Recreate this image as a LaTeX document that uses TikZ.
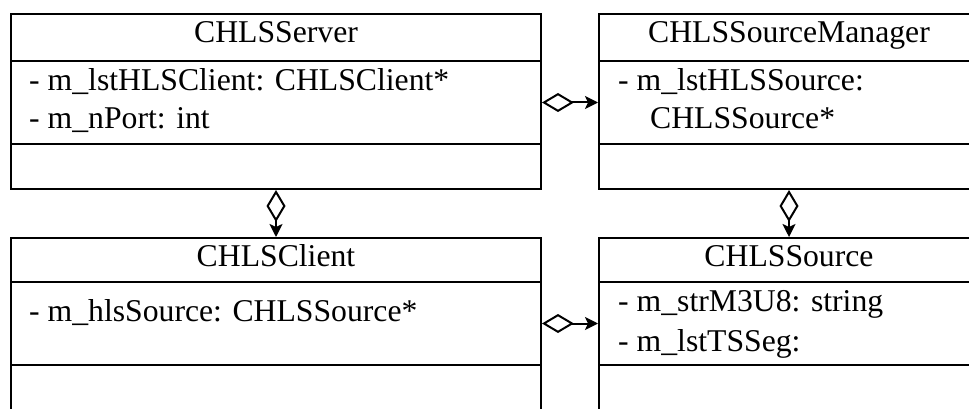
\documentclass[tikz,border=0pt]{standalone}
\usepackage{fontspec}
\setmainfont{Liberation Serif}
\usetikzlibrary{arrows.meta}
\tikzset{
  part/.style={draw=black, line width=2pt, rectangle, inner sep=0pt, minimum width=#1},
  txt/.style={inner sep=0pt, font=\fontsize{31.7}{38}\selectfont},
  agg/.style={line width=2pt, {Diamond[open,length=32pt,width=19pt]}-{Stealth[length=13pt,width=13pt,inset=3pt]}}
}
\begin{document}
\begin{tikzpicture}[x=1pt,y=-1pt]
\useasboundingbox (0,0) rectangle (969,409);
\clip (0,0) rectangle (969,409);
% CHLSServer
\node[part=530pt, minimum height=47pt] (stitle) at (276,37.5) {};
\node[part=530pt, minimum height=83pt] (sattr) at (276,102.5) {};
\node[part=530pt, minimum height=45pt] (sops) at (276,166.5) {};
% CHLSSourceManager
\node[part=380pt, minimum height=47pt] (mtitle) at (789,37.5) {};
\node[part=380pt, minimum height=83pt] (mattr) at (789,102.5) {};
\node[part=380pt, minimum height=45pt] (mops) at (789,166.5) {};
% CHLSClient
\node[part=530pt, minimum height=44pt] (ctitle) at (276,260) {};
\node[part=530pt, minimum height=83pt] (cattr) at (276,323.5) {};
\node[part=530pt, minimum height=60pt] (cops) at (276,395) {};
% CHLSSource
\node[part=380pt, minimum height=44pt] (rtitle) at (789,260) {};
\node[part=380pt, minimum height=83pt] (rattr) at (789,323.5) {};
\node[part=380pt, minimum height=60pt] (rops) at (789,395) {};
% texts
\node[txt, anchor=base] (t1) at (276,42.7) {CHLSServer};
\node[txt, anchor=base west] (t2) at (29,90.7) {- m\_lstHLSClient: CHLSClient*};
\node[txt, anchor=base west] (t3) at (29,128.3) {- m\_nPort: int};
\node[txt, anchor=base] (t4) at (789,42.7) {CHLSSourceManager};
\node[txt, anchor=base west] (t5) at (618,90.7) {- m\_lstHLSSource:};
\node[txt, anchor=base west] (t6) at (650,128.3) {CHLSSource*};
\node[txt, anchor=base] (t7) at (276,266.7) {CHLSClient};
\node[txt, anchor=base west] (t8) at (29,321.7) {- m\_hlsSource: CHLSSource*};
\node[txt, anchor=base] (t9) at (789,266.7) {CHLSSource};
\node[txt, anchor=base west] (t10) at (618,311.7) {- m\_strM3U8: string};
\node[txt, anchor=base west] (t11) at (618,351.7) {- m\_lstTSSeg:};
% connectors
\draw[agg] (sattr.east) -- (mattr.west);
\draw[agg] (cattr.east) -- (rattr.west);
\draw[agg] (sops.south) -- (ctitle.north);
\draw[agg] (mops.south) -- (rtitle.north);
\end{tikzpicture}
\end{document}
